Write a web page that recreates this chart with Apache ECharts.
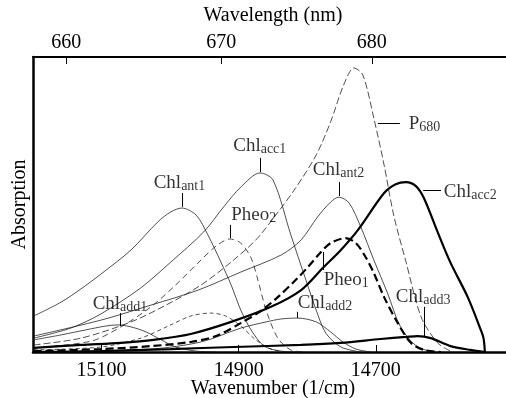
<!DOCTYPE html>
<html>
<head>
	<meta charset="utf-8">
	<title>Absorption bands</title>
	<script src="https://cdn.jsdelivr.net/npm/echarts/dist/echarts.min.js"></script>
	<style>
		* { margin: 0; padding: 0; }
		body { background: #fff; }
		#chart { width: 506px; height: 398px; }
	</style>
</head>
<body>
	<div id="chart"></div>
	<script type="text/javascript">
		// [wavenumber (1/cm), absorption (a.u.)]
		var chlAnt1 = [[15199,12.2],[15159,16.9],[15130,21.4],[15101,26.4],[15057,34.6],[15018,44.1],[14999,47.5],[14983,48.8],[14962,46.4],[14945,39.7],[14926,30.5],[14911,22.7],[14897,14.2],[14882,7.5],[14863,2.0],[14838,0.3],[14809,0]];
		var chlAcc1 = [[15199,4.7],[15145,8.1],[15101,12.9],[15043,21.7],[14999,30.5],[14951,40.7],[14922,49.2],[14897,55.9],[14869,60.7],[14850,58.3],[14824,39.7],[14802,24.4],[14787,14.2],[14773,6.4],[14751,1.7],[14722,0]];
		var pheo2 = [[15199,1.4],[15115,3.7],[15072,8.5],[15028,15.3],[14992,22.7],[14955,31.2],[14933,35.9],[14913,38.3],[14897,36.9],[14882,31.9],[14872,24.4],[14860,14.2],[14843,4.7],[14824,0.7],[14802,0]];
		var dashBump = [[15199,0.7],[15101,1.7],[15043,4.7],[14999,9.2],[14970,12.2],[14941,13.2],[14919,12.2],[14897,8.8],[14875,4.1],[14853,1.0],[14831,0]];
		var p680 = [[15199,2.4],[15130,4.7],[15057,10.2],[15006,15.9],[14955,22.7],[14911,30.5],[14875,38.0],[14846,46.4],[14817,55.6],[14787,66.8],[14766,78.0],[14747,90.5],[14732,96.3],[14719,93.9],[14703,79.3],[14688,63.4],[14674,46.4],[14656,30.5],[14634,11.9],[14610,3.1],[14591,0.3]];
		var chlAnt2 = [[15199,5.4],[15101,10.8],[15028,15.9],[14959,21.0],[14897,27.1],[14838,32.9],[14809,38.0],[14785,45.8],[14766,50.8],[14754,52.5],[14739,50.5],[14722,42.4],[14703,31.2],[14683,20.0],[14664,8.5],[14639,1.7],[14613,0]];
		var chlAcc2 = [[15199,1.4],[15130,2.4],[15072,3.1],[15024,4.1],[14970,6.1],[14911,10.2],[14853,15.3],[14809,21.0],[14776,28.8],[14751,34.6],[14726,41.4],[14688,53.9],[14671,56.9],[14656,57.6],[14642,56.3],[14630,52.2],[14610,40.7],[14591,30.2],[14566,18.6],[14547,7.5],[14543,4.7],[14541,0]];
		var pheo1 = [[15199,0.3],[15101,1.0],[15028,2.0],[14970,3.4],[14933,5.4],[14897,9.8],[14868,13.9],[14843,18.6],[14817,24.4],[14799,28.8],[14780,33.9],[14766,36.9],[14744,38.6],[14729,36.9],[14715,32.2],[14703,26.8],[14688,18.6],[14668,9.8],[14649,3.1],[14630,0.7],[14605,0]];
		var chlAdd1 = [[15199,4.1],[15159,5.8],[15123,7.5],[15094,8.8],[15076,9.2],[15057,8.5],[15035,6.8],[15013,4.1],[14992,1.7],[14962,0.3],[14933,0]];
		var chlAdd2 = [[15199,0],[15028,1.0],[14955,3.4],[14897,8.1],[14860,10.2],[14838,11.2],[14814,11.5],[14787,10.2],[14766,6.8],[14748,3.4],[14729,1.0],[14707,0]];
		var chlAdd3 = [[15199,0],[15101,0.3],[14999,1.0],[14907,1.7],[14809,2.4],[14751,3.1],[14693,4.4],[14656,5.1],[14639,5.4],[14620,4.7],[14591,2.0],[14562,0.7],[14541,0]];

		var wavenumberTicks = [15100, 14900, 14700];
		var wavelengthTicks = [660, 670, 680];

		var labelMain = ['Chl', 'Chl', 'Pheo', 'Chl', 'P', 'Chl', 'Pheo', 'Chl', 'Chl', 'Chl'];
		var labelSub = ['ant1', 'acc1', '2', 'ant2', '680', 'acc2', '1', 'add1', 'add2', 'add3'];
		var labelPos = [[15024,57.3],[14908,69.8],[14911,46.4],[14792,61.7],[14652,77.3],[14601,54.2],[14776,24.4],[15113,16.3],[14814,16.6],[14671,18.6]];
		var leaders = [
			[[14983,53.9],[14983,49.2]],
			[[14869,65.8],[14869,61.0]],
			[[14913,43.1],[14913,38.6]],
			[[14754,57.6],[14754,52.9]],
			[[14697,77.6],[14665,77.6]],
			[[14631,54.9],[14605,54.9]],
			[[14776,33.9],[14776,27.8]],
			[[15073,13.2],[15073,8.8]],
			[[14815,13.6],[14815,11.5]],
			[[14630,15.3],[14630,5.4]]
		];

		var serif = 'Liberation Serif';
		var thin = { color: '#222', width: 0.8 };

		function band(name, data, style, z) {
			return {
				name: name,
				type: 'line',
				data: data,
				showSymbol: false,
				smooth: 0.3,
				silent: true,
				z: z || 2,
				lineStyle: style
			};
		}

		var chart = echarts.init(document.getElementById('chart'));

		var option = {
			animation: false,
			grid: { left: 33, right: -7, top: 57, bottom: 46, outerBoundsMode: 'none' },
			xAxis: [{
				type: 'value',
				position: 'bottom',
				min: 14500,
				max: 15200,
				inverse: true,
				axisLine: { lineStyle: { color: '#000', width: 2.5 } },
				axisTick: { inside: true, length: 7, customValues: wavenumberTicks, lineStyle: { color: '#000', width: 1 } },
				axisLabel: {
					customValues: wavenumberTicks,
					formatter: function (v) { return String(v); },
					margin: 9, fontSize: 20, fontFamily: serif, color: '#000'
				},
				splitLine: { show: false },
				name: 'Wavenumber (1/cm)',
				nameLocation: 'middle',
				nameMoveOverlap: false,
				nameGap: 27,
				nameTextStyle: { fontSize: 20, fontFamily: serif, color: '#000' }
			}, {
				type: 'value',
				position: 'top',
				min: 14500,
				max: 15200,
				inverse: true,
				axisLine: { lineStyle: { color: '#000', width: 2 } },
				axisTick: { inside: true, length: 7, customValues: wavelengthTicks.map(function (w) { return 1e7 / w; }), lineStyle: { color: '#000', width: 1 } },
				axisLabel: {
					customValues: wavelengthTicks.map(function (w) { return 1e7 / w; }),
					formatter: function (v) { return String(Math.round(1e7 / v)); },
					margin: 4, fontSize: 20, fontFamily: serif, color: '#000'
				},
				splitLine: { show: false },
				name: 'Wavelength (nm)',
				nameLocation: 'middle',
				nameMoveOverlap: false,
				nameGap: 31,
				nameTextStyle: { fontSize: 20, fontFamily: serif, color: '#000' }
			}],
			yAxis: {
				type: 'value',
				min: 0,
				max: 100,
				axisLine: { show: true, lineStyle: { color: '#000', width: 2.5 } },
				axisTick: { show: false },
				axisLabel: { show: false },
				splitLine: { show: false },
				name: 'Absorption',
				nameLocation: 'middle',
				nameMoveOverlap: false,
				nameGap: 3,
				nameTextStyle: { fontSize: 20, fontFamily: serif, color: '#000' }
			},
			series: [
				band('Chl ant1', chlAnt1, thin),
				band('Chl acc1', chlAcc1, thin),
				band('Pheo 2', pheo2, { color: '#222', width: 0.8, type: [6, 4] }),
				band('bump', dashBump, { color: '#222', width: 0.8, type: [4, 3] }),
				band('P680', p680, { color: '#222', width: 0.8, type: [7, 3] }),
				band('Chl ant2', chlAnt2, thin),
				band('Chl add1', chlAdd1, thin),
				band('Chl add2', chlAdd2, thin),
				band('Chl add3', chlAdd3, { color: '#000', width: 2.2 }, 3),
				band('Pheo 1', pheo1, { color: '#000', width: 2.2, type: [8, 4] }, 3),
				band('Chl acc2', chlAcc2, { color: '#000', width: 2.2 }, 3),
				{
					type: 'lines',
					coordinateSystem: 'cartesian2d',
					silent: true,
					z: 4,
					lineStyle: { color: '#000', width: 1, opacity: 1 },
					data: leaders.map(function (c) { return { coords: c }; })
				},
				{
					type: 'scatter',
					silent: true,
					z: 5,
					symbolSize: 0,
					data: labelPos,
					label: {
						show: true,
						position: 'right',
						distance: 0,
						formatter: function (p) {
							return '{m|' + labelMain[p.dataIndex] + '}{s|' + labelSub[p.dataIndex] + '}';
						},
						rich: {
							m: { fontSize: 19, lineHeight: 20, fontFamily: serif, color: '#000' },
							s: { fontSize: 14, lineHeight: 12, verticalAlign: 'bottom', fontFamily: serif, color: '#000' }
						}
					}
				}
			]
		};

		chart.setOption(option);
	</script>
</body>
</html>
